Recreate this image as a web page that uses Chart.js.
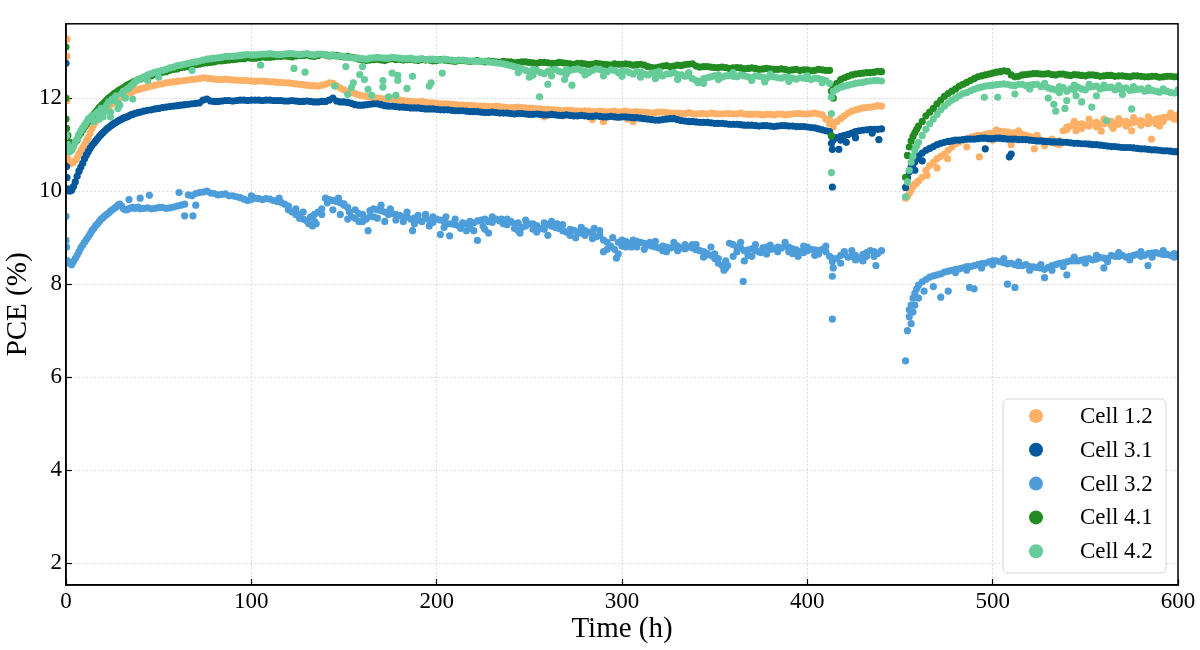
<!DOCTYPE html>
<html>
<head>
<meta charset="utf-8">
<script src="https://cdn.jsdelivr.net/npm/chart.js@4.4.1/dist/chart.umd.min.js"></script>
<style>
  html, body { margin: 0; padding: 0; background: #fff; }
  canvas { display: block; }
</style>
</head>
<body>
<canvas id="chart" width="1200" height="650"></canvas>
<script>
// tick labels
const xTicks = [0, 100, 200, 300, 400, 500, 600];
const yTicks = [2, 4, 6, 8, 10, 12];

const cellNames = ['Cell 1.2', 'Cell 3.1', 'Cell 3.2', 'Cell 4.1', 'Cell 4.2'];

// [time (h), PCE (%)]
const cell12 = [[0.5,13.27],[0.5,12.9],[0.5,11.95],[1,10.7],[2,10.62],[3,10.6],[4,10.62],[5,10.66],[6,10.72],[7,10.8],[8,10.87],[10,11.0],[12,11.15],[14,11.35],[16,11.5],[18,11.6],[20,11.7],[22,11.78],[24,11.86],[26,11.92],[28,11.98],[30,12.03],[32,12.08],[34,12.11],[36,12.15],[38,12.18],[40,12.2],[44,12.24],[48,12.28],[52,12.31],[56,12.34],[60,12.36],[64,12.38],[68,12.4],[72,12.42],[76,12.43],[80,12.41],[84,12.4],[88,12.4],[92,12.39],[96,12.38],[100,12.37],[104,12.37],[108,12.36],[112,12.35],[116,12.34],[120,12.33],[124,12.31],[128,12.29],[132,12.27],[136,12.26],[140,12.3],[144,12.32],[148,12.22],[152,12.14],[156,12.1],[160,12.05],[164,12.02],[168,12.0],[172,11.98],[176,11.99],[180,11.96],[184,11.94],[188,11.92],[192,11.93],[196,11.9],[200,11.89],[204,11.88],[208,11.87],[212,11.85],[216,11.84],[220,11.84],[224,11.83],[228,11.82],[232,11.83],[236,11.81],[240,11.8],[244,11.81],[248,11.79],[252,11.78],[256,11.77],[260,11.76],[264,11.75],[268,11.73],[272,11.74],[276,11.72],[280,11.73],[284,11.71],[288,11.72],[292,11.7],[296,11.72],[300,11.71],[304,11.7],[308,11.71],[312,11.7],[316,11.68],[320,11.7],[324,11.69],[328,11.68],[332,11.67],[336,11.69],[340,11.66],[344,11.67],[348,11.68],[352,11.66],[356,11.67],[360,11.66],[364,11.68],[368,11.65],[372,11.66],[376,11.64],[380,11.65],[384,11.66],[388,11.64],[392,11.66],[396,11.67],[400,11.66],[404,11.68],[408,11.64],[412,11.45],[416,11.5],[420,11.62],[424,11.72],[428,11.77],[432,11.8],[436,11.82],[440,11.83],
  [9,10.94],[11,11.08],[13,11.25],[15,11.43],[17,11.55],[19,11.65],[21,11.74],[23,11.82],[25,11.89],[27,11.95],[29,12.0],[31,12.05],[33,12.1],[35,12.13],[37,12.17],[39,12.19],
  [42,12.22],[46,12.26],[50,12.3],[54,12.33],[58,12.35],[62,12.37],[66,12.39],[70,12.41],[74,12.44],[78,12.42],[82,12.4],[86,12.41],[90,12.39],[94,12.38],[98,12.38],[102,12.36],[106,12.37],[110,12.35],[114,12.34],[118,12.33],[122,12.32],[126,12.3],[130,12.28],[134,12.27],[138,12.28],[142,12.33],[146,12.27],[150,12.18],[154,12.12],[158,12.07],[162,12.04],[166,12.01],[170,11.99],[174,11.98],[178,11.97],[182,11.95],[186,11.93],[190,11.92],[194,11.91],[198,11.9],[202,11.88],[206,11.88],[210,11.86],[214,11.85],[218,11.84],[222,11.83],[226,11.83],[230,11.82],[234,11.82],[238,11.8],[242,11.8],[246,11.8],[250,11.78],[254,11.77],[258,11.76],[262,11.75],[266,11.74],[270,11.74],[274,11.73],[278,11.72],[282,11.72],[286,11.71],[290,11.71],[294,11.71],[298,11.7],[302,11.72],[306,11.7],[310,11.7],[314,11.69],[318,11.69],[322,11.7],[326,11.68],[330,11.68],[334,11.67],[338,11.67],[342,11.67],[346,11.66],[350,11.67],[354,11.66],[358,11.67],[362,11.66],[366,11.66],[370,11.65],[374,11.65],[378,11.65],[382,11.64],[386,11.66],[390,11.65],[394,11.67],[398,11.66],[402,11.67],[406,11.66],[410,11.55],[414,11.46],[418,11.56],[422,11.68],[426,11.75],[430,11.79],[434,11.81],[438,11.84],
  [258,11.6],[268,11.62],[284,11.54],[290,11.5],[303,11.55],[306,11.5],[412,11.55],[414,11.38],
  [453,9.85],[454,9.88],[455,9.95],[456,10.02],[457,10.1],[458,10.15],[459,10.18],[460,10.22],[462,10.3],[464,10.45],[466,10.55],[468,10.62],[470,10.7],[472,10.75],[474,10.8],[476,10.88],[478,10.95],[480,11.02],[484,11.1],[488,11.15],[492,11.2],[496,11.22],[500,11.25],[504,11.28],[508,11.27],[512,11.26],[516,11.22],[520,11.18],[524,11.12],[528,11.08],[532,11.05],[536,11.0],[540,11.38],[544,11.42],[548,11.45],[552,11.4],[556,11.48],[560,11.45],[564,11.5],[568,11.44],[572,11.5],[576,11.48],[580,11.52],[584,11.45],[588,11.55],[592,11.58],[596,11.6],[600,11.64],
  [482,11.06],[486,11.12],[490,11.18],[494,11.2],[498,11.24],[502,11.26],[506,11.28],[510,11.25],[514,11.24],[518,11.2],[522,11.15],[526,11.1],[530,11.06],[534,11.02],[538,11.3],[542,11.4],[546,11.43],[550,11.42],[554,11.46],[558,11.44],[562,11.48],[566,11.46],[570,11.49],[574,11.46],[578,11.5],[582,11.48],[586,11.52],[590,11.56],[594,11.59],[598,11.62],
  [464.6,10.34],[470,10.5],[475.7,10.7],[486,10.95],[492.8,10.74],[500,11.1],[510,11.0],[522.5,10.91],[528,10.98],[545,11.3],[558.6,11.29],[565,11.35],[575,11.3],[585.7,11.12],[590,11.4],[598,11.55],
  [502,11.32],[506,11.2],[514,11.3],[518,11.12],[524,11.2],[532,11.12],[536,11.08],[540,11.32],[544,11.5],[548,11.35],[552,11.55],[556,11.38],[560,11.55],[564,11.42],[568,11.56],[572,11.4],[576,11.58],[580,11.42],[584,11.6],[588,11.45],[592,11.5],[596,11.68],[600,11.55]];

const cell31 = [[0,12.75],[0.3,10.53],[0.5,10.29],[1,10.05],[2,10.0],[3,10.02],[4,10.1],[5,10.2],[6,10.32],[7,10.43],[8,10.52],[10,10.7],[12,10.85],[14,10.98],[16,11.08],[18,11.18],[20,11.26],[22,11.34],[24,11.4],[26,11.46],[28,11.51],[30,11.55],[32,11.59],[34,11.62],[36,11.65],[38,11.68],[40,11.7],[44,11.74],[48,11.77],[52,11.8],[56,11.82],[60,11.84],[64,11.86],[68,11.88],[72,11.9],[76,11.98],[80,11.93],[84,11.94],[88,11.95],[92,11.95],[96,11.96],[100,11.96],[104,11.96],[108,11.96],[112,11.95],[116,11.95],[120,11.94],[124,11.94],[128,11.93],[132,11.93],[136,11.92],[140,11.93],[144,12.0],[148,11.92],[152,11.91],[156,11.86],[160,11.85],[164,11.87],[168,11.88],[172,11.84],[176,11.83],[180,11.81],[184,11.8],[188,11.79],[192,11.78],[196,11.77],[200,11.76],[204,11.75],[208,11.74],[212,11.73],[216,11.72],[220,11.71],[224,11.7],[228,11.69],[232,11.69],[236,11.68],[240,11.67],[244,11.67],[248,11.66],[252,11.65],[256,11.65],[260,11.64],[264,11.64],[268,11.63],[272,11.63],[276,11.62],[280,11.62],[284,11.61],[288,11.61],[292,11.6],[296,11.6],[300,11.6],[304,11.59],[308,11.58],[312,11.56],[316,11.54],[320,11.53],[324,11.55],[328,11.56],[332,11.52],[336,11.5],[340,11.49],[344,11.48],[348,11.47],[352,11.46],[356,11.45],[360,11.44],[364,11.43],[368,11.42],[372,11.41],[376,11.41],[380,11.4],[384,11.4],[388,11.41],[392,11.4],[396,11.39],[400,11.38],[404,11.36],[408,11.32],[412,11.28],[416,11.15],[420,11.2],[424,11.25],[428,11.3],[432,11.32],[436,11.33],[440,11.34],
  [9,10.6],[11,10.78],[13,10.92],[15,11.03],[17,11.13],[19,11.22],[21,11.3],[23,11.37],[25,11.43],[27,11.48],[29,11.53],[31,11.57],[33,11.6],[35,11.64],[37,11.67],[39,11.69],
  [42,11.72],[46,11.75],[50,11.78],[54,11.81],[58,11.83],[62,11.85],[66,11.87],[70,11.89],[74,11.96],[78,11.94],[82,11.93],[86,11.95],[90,11.94],[94,11.96],[98,11.95],[102,11.96],[106,11.95],[110,11.96],[114,11.95],[118,11.94],[122,11.95],[126,11.93],[130,11.94],[134,11.92],[138,11.93],[142,11.96],[146,11.94],[150,11.92],[154,11.89],[158,11.85],[162,11.86],[166,11.88],[170,11.86],[174,11.83],[178,11.82],[182,11.81],[186,11.79],[190,11.79],[194,11.77],[198,11.77],[202,11.75],[206,11.75],[210,11.73],[214,11.73],[218,11.71],[222,11.71],[226,11.69],[230,11.7],[234,11.68],[238,11.68],[242,11.66],[246,11.67],[250,11.65],[254,11.66],[258,11.64],[262,11.65],[266,11.63],[270,11.64],[274,11.62],[278,11.63],[282,11.61],[286,11.62],[290,11.6],[294,11.61],[298,11.59],[302,11.6],[306,11.58],[310,11.57],[314,11.55],[318,11.53],[322,11.54],[326,11.56],[330,11.54],[334,11.51],[338,11.5],[342,11.48],[346,11.48],[350,11.46],[354,11.46],[358,11.44],[362,11.44],[366,11.42],[370,11.42],[374,11.4],[378,11.41],[382,11.39],[386,11.41],[390,11.4],[394,11.39],[398,11.39],[402,11.37],[406,11.34],[410,11.3],[414,11.1],[418,11.18],[422,11.22],[426,11.28],[430,11.31],[434,11.33],[438,11.33],
  [413,11.19],[413,11.03],[413.5,10.9],[413.5,10.09],[417,10.9],[418,11.1],[421,11.05],[426,11.15],[435,11.25],[438.6,11.11],
  [453,10.08],[454,10.29],[455,10.42],[456,10.52],[457,10.58],[458,10.63],[459,10.7],[460,10.76],[462,10.82],[464,10.88],[466,10.92],[468,10.96],[470,11.0],[472,11.03],[474,11.05],[476,11.07],[478,11.08],[480,11.1],[484,11.11],[488,11.12],[492,11.13],[496,11.14],[500,11.13],[504,11.14],[508,11.12],[512,11.12],[516,11.11],[520,11.1],[524,11.08],[528,11.07],[532,11.06],[536,11.06],[540,11.05],[544,11.03],[548,11.02],[552,11.01],[556,11.0],[560,10.98],[564,10.96],[568,10.95],[572,10.94],[576,10.93],[580,10.91],[584,10.9],[588,10.89],[592,10.87],[596,10.86],[600,10.85],
  [482,11.1],[486,11.12],[490,11.12],[494,11.14],[498,11.13],[502,11.14],[506,11.13],[510,11.12],[514,11.11],[518,11.11],[522,11.09],[526,11.08],[530,11.07],[534,11.06],[538,11.05],[542,11.04],[546,11.03],[550,11.02],[554,11.0],[558,10.99],[562,10.97],[566,10.96],[570,10.94],[574,10.94],[578,10.92],[582,10.91],[586,10.89],[590,10.88],[594,10.87],[598,10.85],
  [458,10.45],[462,10.65],[496,10.91],[509,10.74],[510,10.8]];

const cell32 = [[0,9.46],[0,8.94],[0.3,8.8],[1,8.5],[2,8.45],[3,8.42],[4,8.48],[5,8.55],[6,8.62],[7,8.7],[8,8.78],[10,8.9],[12,9.02],[14,9.15],[16,9.26],[18,9.35],[20,9.43],[22,9.5],[24,9.57],[26,9.63],[28,9.7],[30,9.68],[32,9.6],[34,9.62],[36,9.65],[38,9.64],[40,9.62],[44,9.64],[48,9.63],[52,9.65],[56,9.64],[60,9.68],[64,9.72],[68,9.9],[72,9.97],[76,10.0],[80,9.95],[84,9.93],[88,9.9],[92,9.88],[96,9.83],[100,9.82],[104,9.84],[108,9.84],[112,9.8],[116,9.76],[120,9.68],[124,9.5],[128,9.4],[132,9.45],[136,9.55],[140,9.85],[144,9.8],[148,9.75],[152,9.65],[156,9.42],[160,9.5],[164,9.46],[168,9.6],[172,9.55],[176,9.52],[180,9.48],[184,9.45],[188,9.42],[192,9.35],[196,9.38],[200,9.4],[204,9.35],[208,9.3],[212,9.25],[216,9.3],[220,9.15],[224,9.38],[228,9.35],[232,9.4],[236,9.3],[240,9.35],[244,9.32],[248,9.25],[252,9.3],[256,9.2],[260,9.28],[264,9.22],[268,9.15],[272,9.18],[276,9.12],[280,9.15],[284,9.1],[288,9.05],[292,8.9],[296,8.75],[300,8.95],[304,8.88],[308,8.92],[312,8.88],[316,8.82],[320,8.78],[324,8.8],[328,8.8],[332,8.78],[336,8.8],[340,8.74],[344,8.7],[348,8.62],[352,8.45],[356,8.35],[360,8.85],[364,8.78],[368,8.74],[372,8.72],[376,8.78],[380,8.75],[384,8.8],[388,8.82],[392,8.76],[396,8.7],[400,8.72],[404,8.74],[408,8.75],[412,8.6],[416,8.55],[420,8.65],[424,8.6],[428,8.55],[432,8.68],[436,8.7],[440,8.72],
  [9,8.84],[11,8.96],[13,9.08],[15,9.2],[17,9.3],[19,9.4],[21,9.47],[23,9.53],[25,9.6],[27,9.66],[29,9.72],[31,9.62],[33,9.6],[35,9.64],[37,9.63],[39,9.66],
  [42,9.63],[46,9.62],[50,9.65],[54,9.63],[58,9.66],[62,9.7],[66,9.92],[70,9.95],[74,9.98],[78,9.96],[82,9.92],[86,9.94],[90,9.9],[94,9.86],[98,9.8],[102,9.85],[106,9.82],[110,9.83],[114,9.78],[118,9.72],[122,9.55],[126,9.42],[130,9.36],[134,9.5],[138,9.62],[142,9.82],[146,9.78],[150,9.7],[154,9.45],[158,9.52],[162,9.4],[166,9.62],[170,9.58],[174,9.5],[178,9.5],[182,9.45],[186,9.4],[190,9.38],[194,9.42],[198,9.33],[202,9.38],[206,9.3],[210,9.28],[214,9.32],[218,9.2],[222,9.36],[226,9.4],[230,9.33],[234,9.36],[238,9.28],[242,9.3],[246,9.22],[250,9.3],[254,9.26],[258,9.18],[262,9.25],[266,9.2],[270,9.12],[274,9.16],[278,9.1],[282,9.12],[286,9.02],[290,8.95],[294,8.82],[298,8.9],[302,8.92],[306,8.86],[310,8.9],[314,8.84],[318,8.8],[322,8.82],[326,8.78],[330,8.82],[334,8.76],[338,8.78],[342,8.72],[346,8.66],[350,8.55],[354,8.4],[358,8.88],[362,8.8],[366,8.72],[370,8.76],[374,8.7],[378,8.8],[382,8.76],[386,8.78],[390,8.8],[394,8.74],[398,8.68],[402,8.75],[406,8.72],[410,8.7],[414,8.55],[418,8.62],[422,8.58],[426,8.62],[430,8.64],[434,8.72],[438,8.66],
  [34,9.82],[40,9.85],[45,9.91],[61,9.97],[64,9.47],[68.5,9.47],[70,9.7],[100,9.9],[115,9.85],[133,9.25],[135,9.3],[141,9.75],[150,9.73],[163,9.15],[170,9.7],[187,9.15],[202,9.07],[207,9.04],[222,8.94],[228,9.1],[245,9.1],[260,9.05],[275,9.0],[290,8.7],[297,8.56],[305,8.8],[355,8.3],[357,8.4],[365.4,8.06],[366,8.5],[370,8.6],[395,8.6],[413.5,8.48],[413.5,8.17],[413.5,7.25],[414,8.35],[437,8.4],
  [120,9.6],[126,9.5],[131,9.3],[138,9.5],[147,9.85],[153,9.55],[158,9.35],[166,9.45],[175,9.62],[182,9.35],[190,9.48],[196,9.25],[205,9.45],[213,9.2],[218,9.35],[225,9.25],[235,9.4],[242,9.2],[252,9.18],[258,9.32],[265,9.3],[280,9.05],[285,9.2],[295,9.0],[300,8.82],[308,8.8],[315,8.9],[322,8.72],[330,8.72],[338,8.85],[345,8.62],[350,8.65],[360,8.6],[362,8.7],[375,8.68],[380,8.84],[390,8.7],[400,8.8],[406,8.65],[420,8.7],[426,8.52],[432,8.6],
  [124,9.62],[128,9.55],[134,9.35],[144,9.6],[148,9.5],[152,9.4],[156,9.6],[160,9.35],[164,9.58],[168,9.42],[172,9.35],[178,9.38],[184,9.55],[188,9.3],[194,9.5],[198,9.45],[204,9.22],[210,9.4],[216,9.15],[220,9.32],[226,9.18],[230,9.45],[238,9.4],[244,9.15],[248,9.38],[254,9.12],[262,9.35],[268,9.28],[272,9.05],[278,9.22],[284,8.98],[288,9.15],[292,8.75],[298,8.65],[302,8.8],[306,8.95],[312,8.75],[318,8.92],[324,8.7],[328,8.9],[334,8.85],[340,8.85],[344,8.58],[348,8.8],[352,8.55],[356,8.5],[364,8.9],[368,8.62],[372,8.85],[378,8.65],[384,8.7],[388,8.9],[392,8.66],[398,8.82],[404,8.62],[410,8.82],[418,8.45],[424,8.72],[430,8.5],[436,8.6],
  [453,6.35],[454,7.0],[455,7.3],[456,7.55],[457,7.7],[458,7.8],[459,7.9],[460,7.98],[462,8.05],[464,8.1],[466,8.15],[468,8.18],[470,8.2],[472,8.22],[474,8.26],[476,8.28],[478,8.3],[480,8.32],[484,8.35],[488,8.38],[492,8.42],[496,8.45],[500,8.5],[504,8.48],[508,8.44],[512,8.42],[516,8.4],[520,8.38],[524,8.36],[528,8.32],[532,8.4],[536,8.45],[540,8.48],[544,8.5],[548,8.52],[552,8.55],[556,8.54],[560,8.56],[564,8.62],[568,8.6],[572,8.58],[576,8.62],[580,8.6],[584,8.66],[588,8.68],[592,8.64],[596,8.62],[600,8.64],
  [482,8.33],[486,8.38],[490,8.4],[494,8.44],[498,8.48],[502,8.5],[506,8.46],[510,8.45],[514,8.4],[518,8.42],[522,8.37],[526,8.35],[530,8.36],[534,8.42],[538,8.46],[542,8.5],[546,8.5],[550,8.54],[554,8.52],[558,8.57],[562,8.55],[566,8.6],[570,8.62],[574,8.6],[578,8.64],[582,8.62],[586,8.67],[590,8.66],[594,8.64],[598,8.66],
  [480,8.25],[486,8.3],[494,8.35],[500,8.42],[506,8.55],[514,8.48],[520,8.3],[526,8.42],[532,8.3],[538,8.38],[544,8.58],[550,8.45],[556,8.62],[562,8.48],[568,8.68],[574,8.52],[580,8.7],[586,8.58],[592,8.72],[598,8.58],
  [455,7.45],[456,7.15],[457,7.4],[458,7.55],[460,7.7],[463,7.85],[468,7.95],[472,7.72],[476,7.85],[487.5,7.93],[490,7.9],[508,8.0],[512,7.93],[528,8.14],[540,8.2],[560,8.35],[583.8,8.4]];

const cell41 = [[0,13.1],[0,12.0],[0,11.55],[0.3,11.35],[1,11.2],[2,11.05],[3,10.95],[4,11.0],[5,11.05],[6,11.1],[7,11.2],[8,11.25],[10,11.38],[12,11.5],[14,11.6],[16,11.7],[18,11.8],[20,11.88],[22,11.96],[24,12.03],[26,12.1],[28,12.15],[30,12.2],[32,12.25],[34,12.3],[36,12.34],[38,12.38],[40,12.41],[44,12.46],[48,12.51],[52,12.56],[56,12.6],[60,12.63],[64,12.67],[68,12.71],[72,12.73],[76,12.76],[80,12.78],[84,12.8],[88,12.82],[92,12.84],[96,12.85],[100,12.86],[104,12.87],[108,12.88],[112,12.89],[116,12.9],[120,12.9],[124,12.91],[128,12.92],[132,12.91],[136,12.92],[140,12.93],[144,12.92],[148,12.9],[152,12.9],[156,12.87],[160,12.83],[164,12.82],[168,12.84],[172,12.81],[176,12.85],[180,12.84],[184,12.83],[188,12.82],[192,12.83],[196,12.82],[200,12.81],[204,12.82],[208,12.8],[212,12.81],[216,12.8],[220,12.8],[224,12.79],[228,12.8],[232,12.78],[236,12.79],[240,12.78],[244,12.77],[248,12.78],[252,12.76],[256,12.77],[260,12.76],[264,12.75],[268,12.76],[272,12.74],[276,12.75],[280,12.74],[284,12.73],[288,12.74],[292,12.72],[296,12.74],[300,12.73],[304,12.73],[308,12.72],[312,12.71],[316,12.66],[320,12.67],[324,12.7],[328,12.69],[332,12.7],[336,12.73],[340,12.69],[344,12.68],[348,12.67],[352,12.66],[356,12.66],[360,12.65],[364,12.65],[368,12.64],[372,12.64],[376,12.63],[380,12.63],[384,12.62],[388,12.62],[392,12.61],[396,12.6],[400,12.61],[404,12.6],[408,12.61],[412,12.6],[416,12.32],[420,12.44],[424,12.5],[428,12.53],[432,12.55],[436,12.56],[440,12.57],
  [9,11.32],[11,11.44],[13,11.55],[15,11.65],[17,11.75],[19,11.84],[21,11.92],[23,12.0],[25,12.06],[27,12.12],[29,12.18],[31,12.22],[33,12.28],[35,12.32],[37,12.36],[39,12.4],
  [42,12.44],[46,12.48],[50,12.54],[54,12.57],[58,12.62],[62,12.66],[66,12.68],[70,12.72],[74,12.75],[78,12.77],[82,12.8],[86,12.81],[90,12.83],[94,12.85],[98,12.87],[102,12.86],[106,12.89],[110,12.88],[114,12.9],[118,12.91],[122,12.89],[126,12.92],[130,12.93],[134,12.9],[138,12.94],[142,12.91],[146,12.92],[150,12.89],[154,12.88],[158,12.84],[162,12.81],[166,12.83],[170,12.82],[174,12.84],[178,12.83],[182,12.82],[186,12.84],[190,12.81],[194,12.82],[198,12.8],[202,12.83],[206,12.81],[210,12.79],[214,12.81],[218,12.79],[222,12.81],[226,12.78],[230,12.79],[234,12.77],[238,12.78],[242,12.76],[246,12.78],[250,12.77],[254,12.75],[258,12.77],[262,12.75],[266,12.77],[270,12.75],[274,12.73],[278,12.75],[282,12.72],[286,12.75],[290,12.73],[294,12.71],[298,12.73],[302,12.74],[306,12.71],[310,12.73],[314,12.68],[318,12.65],[322,12.69],[326,12.68],[330,12.71],[334,12.72],[338,12.74],[342,12.67],[346,12.68],[350,12.66],[354,12.67],[358,12.64],[362,12.66],[366,12.63],[370,12.65],[374,12.62],[378,12.64],[382,12.62],[386,12.63],[390,12.6],[394,12.62],[398,12.61],[402,12.59],[406,12.62],[410,12.6],[414,12.25],[418,12.4],[422,12.47],[426,12.52],[430,12.54],[434,12.55],[438,12.58],
  [413,12.15],[413,11.19],[414,12.0],
  [453,10.3],[454,10.77],[455,10.95],[456,11.08],[457,11.18],[458,11.26],[459,11.33],[460,11.4],[462,11.5],[464,11.62],[466,11.7],[468,11.78],[470,11.88],[472,11.96],[474,12.04],[476,12.1],[478,12.15],[480,12.2],[484,12.3],[488,12.38],[492,12.46],[496,12.5],[500,12.54],[504,12.57],[508,12.58],[512,12.46],[516,12.5],[520,12.52],[524,12.53],[528,12.52],[532,12.51],[536,12.52],[540,12.5],[544,12.51],[548,12.49],[552,12.5],[556,12.49],[560,12.48],[564,12.49],[568,12.48],[572,12.47],[576,12.48],[580,12.47],[584,12.46],[588,12.47],[592,12.46],[596,12.47],[600,12.46],
  [482,12.26],[486,12.34],[490,12.42],[494,12.48],[498,12.52],[502,12.56],[506,12.59],[510,12.5],[514,12.47],[518,12.51],[522,12.53],[526,12.52],[530,12.53],[534,12.5],[538,12.52],[542,12.49],[546,12.5],[550,12.48],[554,12.5],[558,12.47],[562,12.49],[566,12.47],[570,12.48],[574,12.46],[578,12.48],[582,12.46],[586,12.47],[590,12.45],[594,12.47],[598,12.46]];

const cell42 = [[0.3,11.2],[0.5,10.9],[1,11.0],[2,10.85],[3,10.88],[4,10.95],[5,11.05],[6,11.12],[7,11.22],[8,11.3],[10,11.42],[12,11.55],[14,11.62],[16,11.66],[18,11.72],[20,11.6],[22,11.85],[24,11.7],[26,11.95],[28,11.78],[30,12.1],[32,12.0],[34,12.22],[36,12.3],[38,12.38],[40,12.42],[44,12.5],[48,12.56],[52,12.6],[56,12.65],[60,12.7],[64,12.73],[68,12.77],[72,12.8],[76,12.84],[80,12.86],[84,12.88],[88,12.9],[92,12.91],[96,12.93],[100,12.93],[104,12.94],[108,12.95],[112,12.95],[116,12.94],[120,12.96],[124,12.95],[128,12.95],[132,12.94],[136,12.95],[140,12.94],[144,12.93],[148,12.91],[152,12.88],[156,12.86],[160,12.85],[164,12.86],[168,12.88],[172,12.86],[176,12.88],[180,12.86],[184,12.85],[188,12.84],[192,12.85],[196,12.84],[200,12.83],[204,12.84],[208,12.82],[212,12.82],[216,12.81],[220,12.8],[224,12.79],[228,12.78],[232,12.76],[236,12.74],[240,12.7],[244,12.66],[248,12.6],[252,12.62],[256,12.55],[260,12.58],[264,12.62],[268,12.56],[272,12.6],[276,12.63],[280,12.58],[284,12.6],[288,12.62],[292,12.57],[296,12.6],[300,12.58],[304,12.55],[308,12.57],[312,12.52],[316,12.54],[320,12.5],[324,12.52],[328,12.55],[332,12.5],[336,12.48],[340,12.38],[344,12.42],[348,12.46],[352,12.5],[356,12.48],[360,12.47],[364,12.5],[368,12.46],[372,12.48],[376,12.45],[380,12.47],[384,12.44],[388,12.46],[392,12.43],[396,12.44],[400,12.42],[404,12.43],[408,12.4],[412,12.32],[416,12.2],[420,12.26],[424,12.3],[428,12.33],[432,12.36],[436,12.38],[440,12.37],
  [9,11.36],[11,11.48],[13,11.58],[15,11.5],[17,11.7],[19,11.78],[21,11.72],[23,11.92],[25,11.98],[27,12.05],[29,11.85],[31,12.15],[33,12.2],[35,12.26],[37,12.34],[39,12.4],
  [42,12.46],[46,12.53],[50,12.58],[54,12.62],[58,12.67],[62,12.71],[66,12.75],[70,12.78],[74,12.82],[78,12.85],[82,12.87],[86,12.9],[90,12.9],[94,12.92],[98,12.94],[102,12.93],[106,12.95],[110,12.96],[114,12.94],[118,12.95],[122,12.96],[126,12.94],[130,12.96],[134,12.93],[138,12.95],[142,12.92],[146,12.9],[150,12.9],[154,12.87],[158,12.86],[162,12.84],[166,12.87],[170,12.87],[174,12.86],[178,12.87],[182,12.85],[186,12.86],[190,12.84],[194,12.83],[198,12.84],[202,12.82],[206,12.83],[210,12.81],[214,12.82],[218,12.8],[222,12.79],[226,12.8],[230,12.77],[234,12.75],[238,12.72],[242,12.68],[246,12.63],[250,12.57],[254,12.6],[258,12.53],[262,12.6],[266,12.58],[270,12.52],[274,12.62],[278,12.6],[282,12.55],[286,12.63],[290,12.58],[294,12.61],[298,12.55],[302,12.59],[306,12.52],[310,12.56],[314,12.5],[318,12.55],[322,12.48],[326,12.53],[330,12.51],[334,12.47],[338,12.42],[342,12.36],[346,12.44],[350,12.48],[354,12.45],[358,12.49],[362,12.46],[366,12.48],[370,12.44],[374,12.47],[378,12.43],[382,12.46],[386,12.43],[390,12.45],[394,12.41],[398,12.43],[402,12.4],[406,12.42],[410,12.38],[414,12.15],[418,12.24],[422,12.28],[426,12.32],[430,12.34],[434,12.37],[438,12.38],
  [18,11.55],[24,11.6],[28,11.9],[36,11.98],[44,12.38],[50,12.45],[68,12.6],[105,12.71],[123,12.64],[129,12.56],[145,12.26],[151,12.68],[152,12.08],[154,12.23],[155,12.33],[158.5,12.51],[160,12.68],[161,12.4],[163,12.19],[165,12.06],[171,12.38],[171,12.24],[174,12.03],[176,12.54],[178,12.06],[179,12.49],[179,12.38],[184,12.21],[187,12.47],[196,12.26],[197,12.33],[203,12.54],[250,12.45],[255.5,12.03],[260,12.3],[269,12.4],[273,12.28],[300,12.47],[318,12.42],[341,12.33],[377,12.35],[413,12.02],[413,11.67],[413,10.4],
  [244,12.55],[252,12.5],[262,12.48],[270,12.62],[280,12.5],[290,12.48],[300,12.52],[310,12.45],[320,12.58],[330,12.4],[336,12.55],[344,12.32],[352,12.4],[360,12.55],[370,12.38],[380,12.52],[390,12.36],[400,12.48],[408,12.33],
  [453,9.88],[454,10.2],[455,10.45],[456,10.62],[457,10.75],[458,10.88],[459,10.97],[460,11.05],[462,11.2],[464,11.33],[466,11.45],[468,11.55],[470,11.65],[472,11.75],[474,11.83],[476,11.9],[478,11.96],[480,12.0],[484,12.1],[488,12.16],[492,12.22],[496,12.26],[500,12.28],[504,12.3],[508,12.3],[512,12.27],[516,12.3],[520,12.28],[524,12.3],[528,12.26],[532,12.2],[536,12.25],[540,12.15],[544,12.28],[548,12.2],[552,12.24],[556,12.26],[560,12.22],[564,12.24],[568,12.2],[572,12.22],[576,12.18],[580,12.2],[584,12.17],[588,12.15],[592,12.16],[596,12.12],[600,12.13],
  [482,12.05],[486,12.12],[490,12.19],[494,12.24],[498,12.27],[502,12.29],[506,12.31],[510,12.28],[514,12.3],[518,12.27],[522,12.29],[526,12.25],[530,12.22],[534,12.18],[538,12.23],[542,12.2],[546,12.24],[550,12.18],[554,12.25],[558,12.2],[562,12.23],[566,12.18],[570,12.21],[574,12.17],[578,12.19],[582,12.15],[586,12.17],[590,12.13],[594,12.15],[598,12.11],
  [520,12.2],[528,12.32],[536,12.12],[544,12.18],[552,12.3],[560,12.28],[568,12.27],[576,12.25],[584,12.22],[592,12.2],[600,12.18],[540,11.95],[556,12.05],[570,12.08],
  [495.5,12.02],[502.7,12.02],[512,12.09],[530,12.0],[533,11.87],[534,11.72],[539,11.78],[545,12.05],[548,11.92],[553.5,11.81],[561.5,11.52],[575,11.77]];

const cellData = [cell12, cell31, cell32, cell41, cell42];
const cellColors = ['#feb066', '#02589a', '#4e9ddb', '#228b22', '#66cc99'];

const serif = 'Liberation Serif';

// matplotlib-like frame and legend inside the plot
const frameAndLegend = {
  id: 'frameAndLegend',
  afterDraw(chart) {
    const ctx = chart.ctx;
    const a = chart.chartArea;
    ctx.save();
    ctx.strokeStyle = '#000';
    ctx.lineWidth = 1.5;
    ctx.strokeRect(a.left, a.top, a.right - a.left, a.bottom - a.top);

    const bx = 1003, by = 399, bw = 163, bh = 174;
    ctx.beginPath();
    ctx.roundRect(bx, by, bw, bh, 5);
    ctx.fillStyle = 'rgba(255,255,255,0.85)';
    ctx.fill();
    ctx.strokeStyle = '#d5d5d5';
    ctx.lineWidth = 1;
    ctx.stroke();

    ctx.font = '23px "' + serif + '"';
    ctx.textBaseline = 'middle';
    ctx.textAlign = 'left';
    cellNames.forEach((name, i) => {
      const y = 416 + i * 33.8;
      ctx.beginPath();
      ctx.arc(1036, y, 7, 0, Math.PI * 2);
      ctx.fillStyle = cellColors[i];
      ctx.fill();
      ctx.fillStyle = '#000';
      ctx.fillText(name, 1080, y + 1);
    });
    ctx.restore();
  }
};

const drawOrder = [4, 3, 2, 1, 0];

new Chart(document.getElementById('chart'), {
  type: 'scatter',
  data: {
    datasets: cellData.map((pts, i) => ({
      label: cellNames[i],
      data: pts.map(p => ({ x: p[0], y: p[1] })),
      backgroundColor: cellColors[i],
      borderWidth: 0,
      pointRadius: 3.6,
      order: drawOrder[i]
    }))
  },
  options: {
    responsive: false,
    animation: false,
    devicePixelRatio: 1,
    layout: { padding: { left: 0, right: 22, top: 4, bottom: 0 } },
    plugins: {
      legend: { display: false },
      tooltip: { enabled: false }
    },
    scales: {
      x: {
        type: 'linear',
        min: 0,
        max: 600,
        afterBuildTicks: s => { s.ticks = xTicks.map(v => ({ value: v })); },
        afterFit: s => { s.height = 65; s.paddingLeft = 0; s.paddingRight = 0; },
        grid: { color: '#cfcfcf', lineWidth: 0.8, tickLength: -6, tickColor: '#000', tickWidth: 1.2, tickBorderDash: [] },
        border: { color: '#000', width: 1.5, dash: [2, 2] },
        ticks: { color: '#000', padding: 9, maxRotation: 0, font: { family: serif, size: 23 } },
        title: { display: true, text: 'Time (h)', color: '#000', font: { family: serif, size: 29 }, padding: { top: 0, bottom: 3 } }
      },
      y: {
        type: 'linear',
        min: 1.53,
        max: 13.6,
        afterBuildTicks: s => { s.ticks = yTicks.map(v => ({ value: v })); },
        afterFit: s => { s.width = 66; },
        grid: { color: '#cfcfcf', lineWidth: 0.8, tickLength: -6, tickColor: '#000', tickWidth: 1.2, tickBorderDash: [] },
        border: { color: '#000', width: 1.5, dash: [2, 2] },
        ticks: { color: '#000', padding: 10, font: { family: serif, size: 23 } },
        title: { display: true, text: 'PCE (%)', color: '#000', font: { family: serif, size: 29 }, padding: { top: 1, bottom: 0 } }
      }
    }
  },
  plugins: [frameAndLegend]
});
</script>
</body>
</html>
